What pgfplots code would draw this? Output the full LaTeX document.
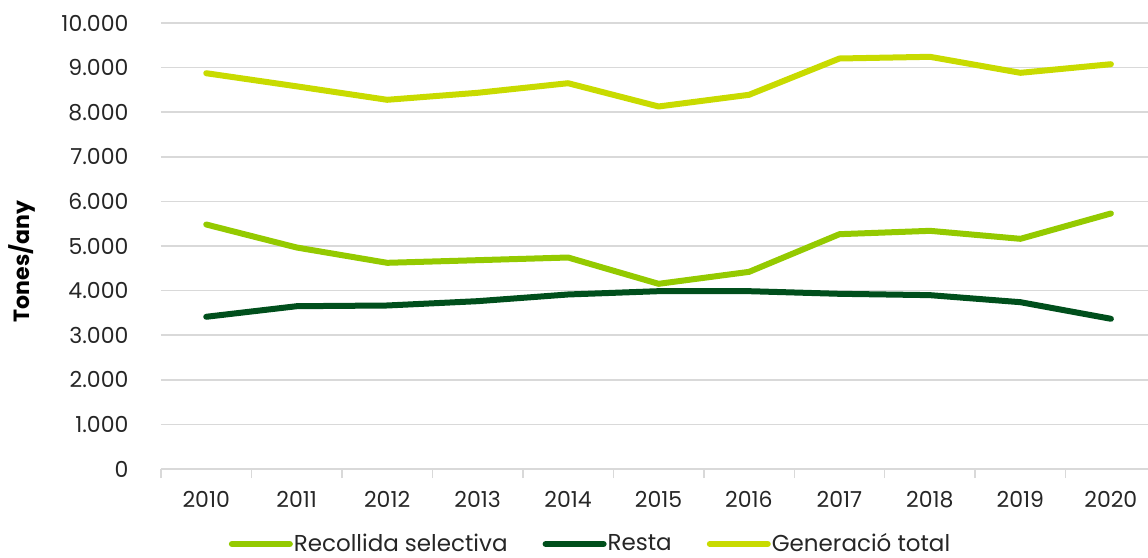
\documentclass[border=0pt]{standalone}
\usepackage{fontspec}
\setmainfont{Poppins}
\usepackage{pgfplots}
\pgfplotsset{compat=1.18}
\usetikzlibrary{calc}

\definecolor{recollida}{HTML}{94CA00}
\definecolor{resta}{HTML}{004F1C}
\definecolor{generacio}{HTML}{C8DB00}
\definecolor{gridgray}{HTML}{D9D9D9}
\definecolor{txt}{HTML}{262626}

\begin{document}
\begin{tikzpicture}
\begin{axis}[
    name=ax,
    scale only axis,
    width=493.5pt, height=223pt,
    xmin=2009.5, xmax=2020.41,
    ymin=0, ymax=10000,
    ytick={0,1000,...,10000},
    scaled y ticks=false,
    xtick={2010,...,2020},
    minor xtick={2009.5,2010.5,...,2019.5},
    major x tick style={draw=none},
    minor x tick style={draw=gridgray, line width=0.75pt},
    minor tick length=4.5pt,
    tick align=outside,
    ytick style={draw=none},
    axis x line*=bottom, axis y line*=left,
    y axis line style={draw=none},
    x axis line style={draw=gridgray, line width=0.75pt},
    ymajorgrids, grid style={gridgray, line width=0.75pt},
    /pgf/number format/assume math mode=true,
    x tick label style={/pgf/number format/1000 sep={}, font=\fontsize{11}{13}\selectfont, text=txt, yshift=-3.5pt},
    y tick label style={/pgf/number format/1000 sep={.}, font=\fontsize{11}{13}\selectfont, text=txt, xshift=-8.5pt},
    ylabel={Tones/any},
    every axis y label/.style={at={(axis description cs:-0.1408,0.465)}, rotate=90, anchor=center, font=\fontsize{11}{13}\bfseries\selectfont},
    legend columns=3,
    legend style={draw=none, fill=none, at={(0.4347,0)}, yshift=-37.5pt, anchor=center,
        font=\fontsize{11.5}{13}\selectfont, text=txt,
        nodes={inner xsep=0.5pt},
        /tikz/every even column/.append style={column sep=17pt},
        inner sep=0pt},
    legend image code/.code={\draw[#1, line width=3pt, line cap=round] (0pt,0pt) -- (29pt,0pt);},
    every axis plot/.append style={line width=3pt, line join=round, line cap=round},
    clip=false,
]
\addplot[recollida] coordinates {(2010,5482) (2011,4966) (2012,4623) (2013,4682) (2014,4742) (2015,4152) (2016,4420) (2017,5265) (2018,5340) (2019,5161) (2020,5729)};
\addlegendentry{Recollida selectiva}
\addplot[resta] coordinates {(2010,3413) (2011,3650) (2012,3666) (2013,3763) (2014,3913) (2015,3987) (2016,3987) (2017,3928) (2018,3898) (2019,3740) (2020,3368)};
\addlegendentry{Resta}
\addplot[generacio] coordinates {(2010,8874) (2011,8580) (2012,8278) (2013,8435) (2014,8650) (2015,8128) (2016,8390) (2017,9204) (2018,9242) (2019,8883) (2020,9076)};
\addlegendentry{Generació total}
\end{axis}
\pgfresetboundingbox
\path ($(ax.south west)+(-80.5pt,-44.25pt)$) rectangle ($(ax.north east)+(0pt,11.5pt)$);
\end{tikzpicture}
\end{document}
